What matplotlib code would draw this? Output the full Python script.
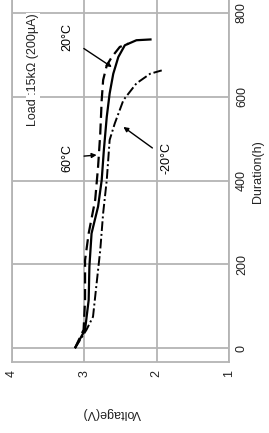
import matplotlib
matplotlib.use("Agg")
import matplotlib.pyplot as plt

plt.rcParams["font.family"] = ["Liberation Sans", "DejaVu Sans"]

# Data: duration (h) vs voltage (V)
t_20 = [0, 44, 115, 195, 274, 338, 401, 473, 552, 608, 655, 695, 723, 735, 737]
v_20 = [3.13, 2.99, 2.94, 2.93, 2.90, 2.81, 2.76, 2.73, 2.69, 2.65, 2.60, 2.53, 2.44, 2.28, 2.07]

t_60 = [0, 44, 115, 210, 274, 354, 433, 512, 592, 640, 675, 695, 719, 727]
v_60 = [3.13, 3.01, 2.99, 2.99, 2.94, 2.85, 2.81, 2.78, 2.76, 2.74, 2.69, 2.62, 2.51, 2.39]

t_m20 = [0, 44, 75, 155, 234, 322, 401, 497, 536, 592, 632, 655, 663]
v_m20 = [3.13, 2.97, 2.88, 2.83, 2.78, 2.74, 2.69, 2.65, 2.58, 2.46, 2.28, 2.09, 1.93]

volt_ticks = [4, 3, 2, 1]
dur_ticks = [0, 200, 400, 600, 800]

W, H = 269, 433
fig = plt.figure(figsize=(W / 100, H / 100), dpi=100)
left, right = 12 / W, 229 / W
bottom, top = (H - 362) / H, (H + 18) / H
ax = fig.add_axes([left, bottom, right - left, top - bottom])

grey = "#b4b4b4"
fs = 9

ax.plot(v_20, t_20, color="black", lw=1.6, solid_capstyle="butt")
ax.plot(v_60, t_60, color="black", lw=1.6, linestyle=(0, (5, 2.5)))
ax.plot(v_m20, t_m20, color="black", lw=1.4, linestyle=(0, (5, 1.5, 1, 1.5)))

ax.set_xlim(4, 1)
ax.set_ylim(-33, 874)
ax.set_xticks(volt_ticks)
ax.set_yticks(dur_ticks)
ax.grid(True, color=grey, lw=1.3)
ax.set_axisbelow(True)
for s in ["left", "bottom", "right"]:
    ax.spines[s].set_color(grey)
    ax.spines[s].set_linewidth(1.3)
ax.spines["top"].set_visible(False)

ax.yaxis.tick_right()
ax.tick_params(length=0, labelsize=fs, colors="#222222")
ax.tick_params(axis="y", pad=5)
ax.tick_params(axis="x", pad=6)
for lab in ax.get_yticklabels():
    lab.set_rotation(90)
    lab.set_va("center")
for lab in ax.get_xticklabels():
    lab.set_rotation(90)

fig.text(258 / W, 1 - 172 / H, "Duration(h)", rotation=90, ha="center", va="center",
         fontsize=fs, color="#222222")
fig.text(112 / W, 1 - 413 / H, "Voltage(V)", rotation=180, ha="center", va="center",
         fontsize=fs, color="#222222")

ax.text(3.71, 664, "Load :15k\u03a9 (200\u00b5A)", rotation=90, ha="center", va="center",
        fontsize=fs, color="#222222",
        bbox=dict(facecolor="white", edgecolor="none", pad=0.5))

arrow = dict(arrowstyle="-|>", color="black", lw=1.0, mutation_scale=7)
ax.annotate("20\u00b0C", xy=(2.62, 671), xytext=(3.24, 742), rotation=90,
            ha="center", va="center", fontsize=fs, arrowprops=dict(arrow, shrinkA=7, shrinkB=0))
ax.annotate("60\u00b0C", xy=(2.83, 461), xytext=(3.24, 455), rotation=90,
            ha="center", va="center", fontsize=fs, arrowprops=dict(arrow, shrinkA=6, shrinkB=0))
ax.annotate("-20\u00b0C", xy=(2.46, 528), xytext=(1.86, 453), rotation=90,
            ha="center", va="center", fontsize=fs, arrowprops=dict(arrow, shrinkA=5, shrinkB=0))

fig.savefig("out.png", dpi=100)
